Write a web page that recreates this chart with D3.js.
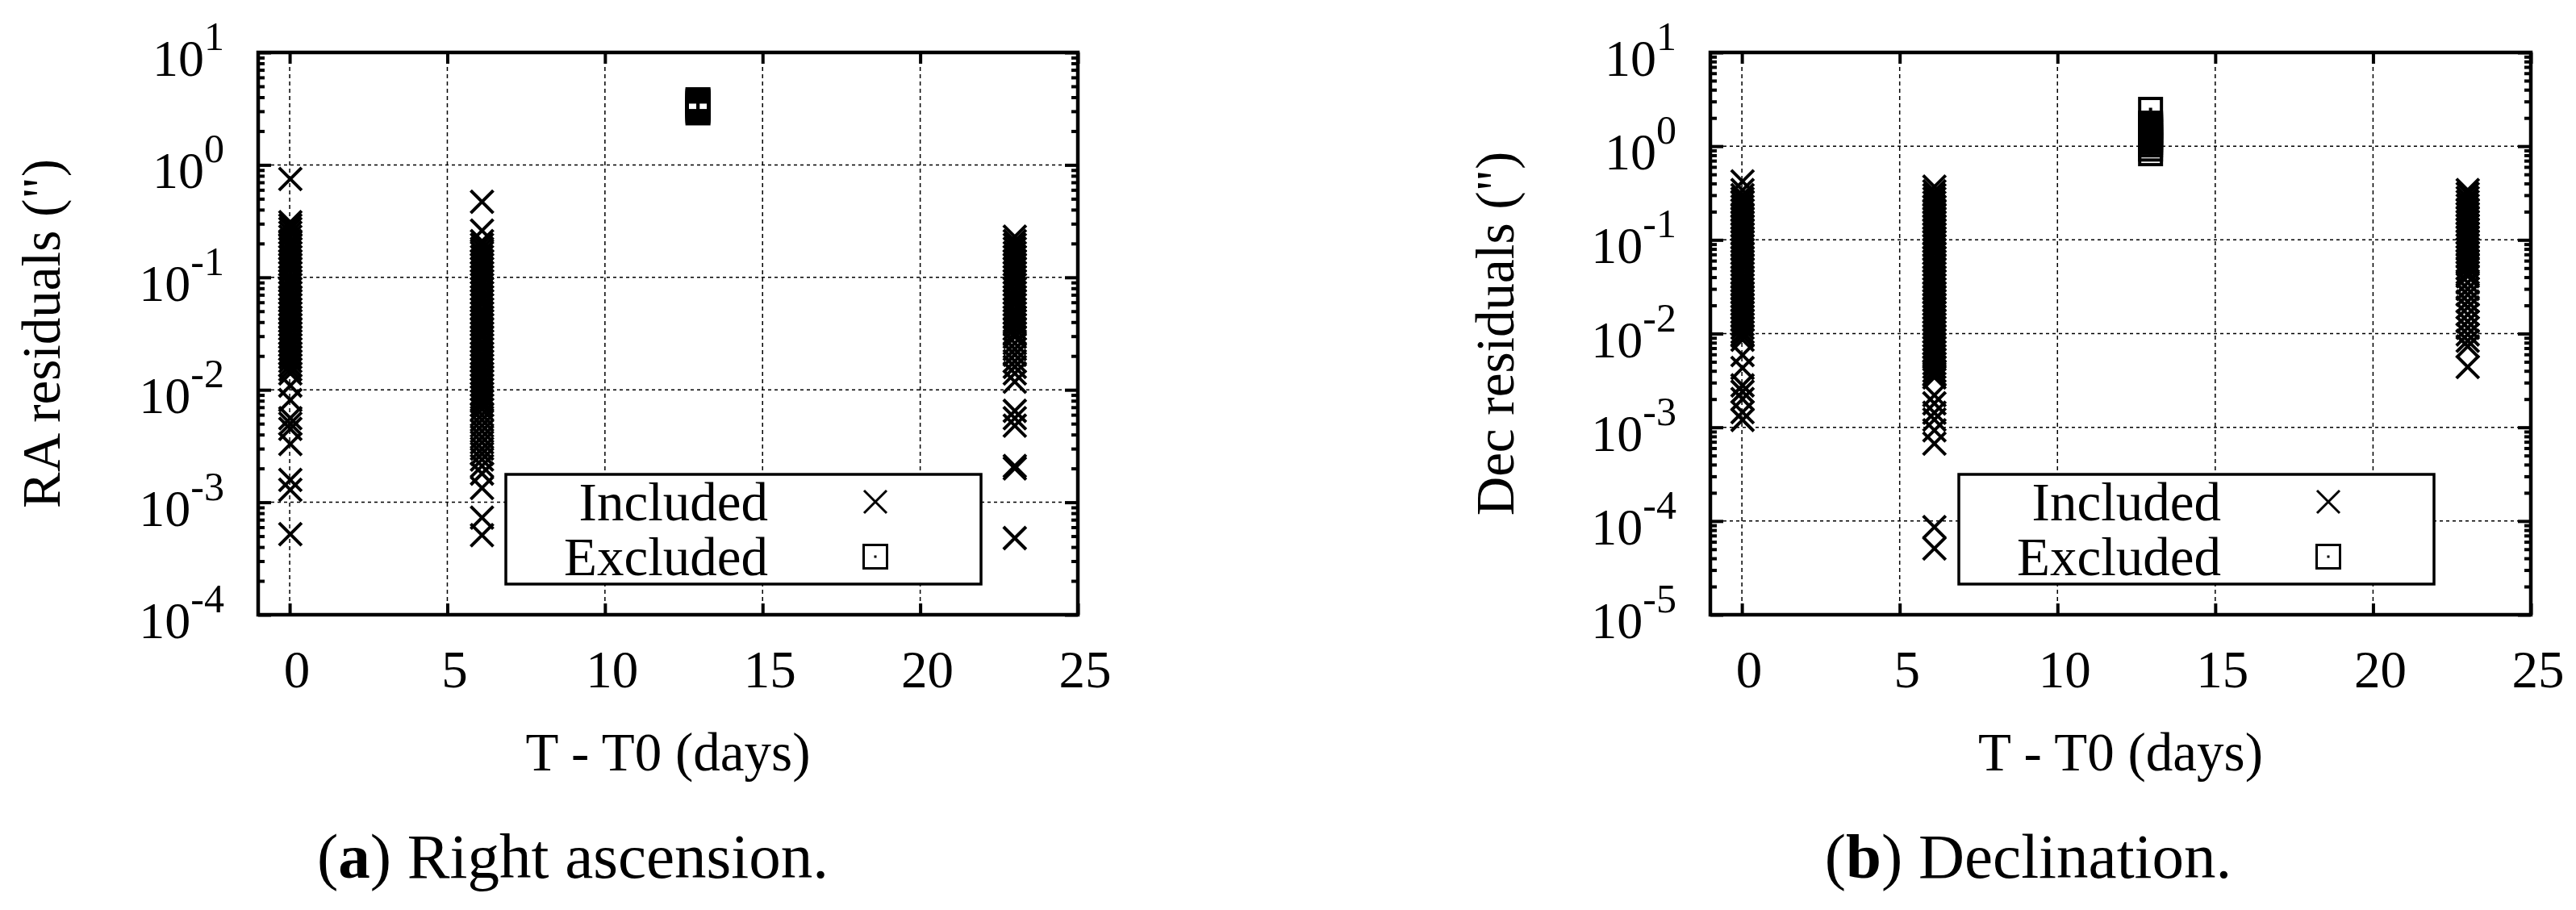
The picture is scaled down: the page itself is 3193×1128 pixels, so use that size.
<!DOCTYPE html>
<meta charset="utf-8">
<script src="https://d3js.org/d3.v7.min.js"></script>
<style>
  body { margin: 0; background: #fff; }
  text { font-family: "Liberation Serif", "Times New Roman", serif; fill: #000; }
</style>
<body>
<div id="chart"></div>
<script>
var nightDays = [0.02, 6.1, 23.0];
var excludedDay = 12.95;

var raNight1 = [0.75,
  0.31, 0.29, 0.27, 0.25, 0.23, 0.21, 0.195, 0.18, 0.165, 0.152, 0.14, 0.13, 0.12, 0.11, 0.1,
  0.093, 0.086, 0.079, 0.073, 0.067, 0.062, 0.057, 0.052, 0.048, 0.044, 0.041, 0.038, 0.035,
  0.032, 0.0295, 0.027, 0.025, 0.023, 0.021, 0.0195, 0.018, 0.0165, 0.0152, 0.014,
  0.0109, 0.0081, 0.0056, 0.005, 0.0045, 0.0033, 0.00158, 0.00129, 0.00052];
var raNight2 = [0.47, 0.26,
  0.21, 0.195, 0.18, 0.165, 0.152, 0.14, 0.13, 0.12, 0.11, 0.101, 0.093, 0.086, 0.079, 0.073,
  0.067, 0.062, 0.057, 0.052, 0.048, 0.044, 0.041, 0.038, 0.035, 0.032, 0.0295, 0.027, 0.025,
  0.023, 0.021, 0.0195, 0.018, 0.0165, 0.0152, 0.014, 0.013, 0.012, 0.011, 0.0101, 0.0093,
  0.0086, 0.0079, 0.0073, 0.0067,
  0.006, 0.0054, 0.0048, 0.0043, 0.0038, 0.0034, 0.003, 0.0027, 0.0024, 0.0021, 0.0018,
  0.00134, 0.00073, 0.00051];
var raNight3 = [0.23, 0.21, 0.195, 0.18, 0.165, 0.152, 0.14, 0.13, 0.12, 0.11, 0.101, 0.093,
  0.086, 0.079, 0.073, 0.067, 0.062, 0.057, 0.052, 0.048, 0.044, 0.041, 0.038, 0.035, 0.032, 0.0295,
  0.026, 0.023, 0.0205, 0.018, 0.016, 0.014, 0.0118,
  0.0065, 0.0056, 0.0048, 0.0021, 0.002, 0.00048];
var raExcluded = [2.9, 3.0, 3.1, 3.2, 3.3, 3.4, 3.5, 3.6, 3.7, 3.8];

var decNight1 = [0.42, 0.34,
  0.3, 0.275, 0.25, 0.227, 0.206, 0.187, 0.17, 0.155, 0.141, 0.128, 0.116, 0.105, 0.096, 0.087,
  0.079, 0.072, 0.065, 0.059, 0.054, 0.049, 0.044, 0.04, 0.0365, 0.033, 0.03, 0.0273, 0.0248,
  0.0225, 0.0205, 0.0186, 0.0169, 0.0153, 0.0139, 0.0126, 0.0115, 0.0104, 0.0095, 0.0086,
  0.0059, 0.0043, 0.0028, 0.0024, 0.002, 0.00145, 0.0012];
var decNight2 = [0.37,
  0.33, 0.3, 0.275, 0.25, 0.227, 0.206, 0.187, 0.17, 0.155, 0.141, 0.128, 0.116, 0.105, 0.096,
  0.087, 0.079, 0.072, 0.065, 0.059, 0.054, 0.049, 0.044, 0.04, 0.0365, 0.033, 0.03, 0.0273,
  0.0248, 0.0225, 0.0205, 0.0186, 0.0169, 0.0153, 0.0139, 0.0126, 0.0115, 0.0104, 0.0095,
  0.0086, 0.0078, 0.0071, 0.0064, 0.0058, 0.0053, 0.0048, 0.0044, 0.004, 0.0037, 0.0034,
  0.0022, 0.0018, 0.00143, 0.00121, 0.00093, 0.00067, 0.000086, 0.000051];
var decNight3 = [0.34, 0.31, 0.28, 0.255, 0.232, 0.21, 0.19, 0.173, 0.157, 0.143, 0.13, 0.118,
  0.107, 0.097, 0.088, 0.08, 0.073, 0.066, 0.06, 0.055, 0.05, 0.045, 0.041,
  0.035, 0.03, 0.026, 0.022, 0.019, 0.016, 0.0135, 0.0115, 0.0098, 0.0084, 0.0073, 0.0044];
var decExcluded = [2.47, 1.76, 1.68, 1.6, 1.52, 1.45, 1.38, 1.31, 1.24, 1.17, 1.1, 1.03, 0.93, 0.83];

var xTicks = [0, 5, 10, 15, 20, 25];
var raDecades = [-4, -3, -2, -1, 0, 1];
var decDecades = [-5, -4, -3, -2, -1, 0, 1];
var legendLabels = ["Included", "Excluded"];

var width = 3193, height = 1128;
var svg = d3.select("#chart").append("svg")
    .attr("width", width)
    .attr("height", height);
svg.append("rect").attr("width", width).attr("height", height).attr("fill", "white");

var cross = "M-14,-14L14,14M-14,14L14,-14";

function drawPanel(p) {
    var g = svg.append("g");
    var x = d3.scaleLinear().domain([-1, 25]).range([p.left, p.right]);
    var y = d3.scaleLog().domain([Math.pow(10, p.decades[0]), 10]).range([p.bottom, p.top]);
    var majors = p.decades.map(function (e) { return Math.pow(10, e); });
    var minors = [];
    p.decades.slice(0, -1).forEach(function (e) {
        for (var k = 2; k <= 9; k++) minors.push(k * Math.pow(10, e));
    });

    // dashed grid on major ticks
    g.selectAll(".vgrid").data(xTicks).enter().append("line")
        .attr("x1", function (d) { return x(d); }).attr("x2", function (d) { return x(d); })
        .attr("y1", p.top).attr("y2", p.bottom)
        .attr("stroke", "#000").attr("stroke-width", 1.5).attr("stroke-dasharray", "5,4");
    g.selectAll(".hgrid").data(majors).enter().append("line")
        .attr("x1", p.left).attr("x2", p.right)
        .attr("y1", function (d) { return y(d); }).attr("y2", function (d) { return y(d); })
        .attr("stroke", "#000").attr("stroke-width", 1.5).attr("stroke-dasharray", "4,4");

    function tickStyle(sel) {
        sel.select(".domain").remove();
        sel.selectAll(".tick line").attr("stroke", "#000").attr("stroke-width", 4);
        sel.selectAll(".tick text").remove();
    }
    g.append("g").attr("transform", "translate(0," + p.bottom + ")")
        .call(d3.axisBottom(x).tickValues(xTicks).tickSize(-14).tickFormat("")).call(tickStyle);
    g.append("g").attr("transform", "translate(0," + p.top + ")")
        .call(d3.axisTop(x).tickValues(xTicks).tickSize(-14).tickFormat("")).call(tickStyle);
    g.append("g").attr("transform", "translate(" + p.left + ",0)")
        .call(d3.axisLeft(y).tickValues(majors).tickSize(-16).tickFormat("")).call(tickStyle);
    g.append("g").attr("transform", "translate(" + p.left + ",0)")
        .call(d3.axisLeft(y).tickValues(minors).tickSize(-8).tickFormat("")).call(tickStyle);
    g.append("g").attr("transform", "translate(" + p.right + ",0)")
        .call(d3.axisRight(y).tickValues(majors).tickSize(-16).tickFormat("")).call(tickStyle);
    g.append("g").attr("transform", "translate(" + p.right + ",0)")
        .call(d3.axisRight(y).tickValues(minors).tickSize(-8).tickFormat("")).call(tickStyle);

    // tick labels
    g.selectAll(".xlab").data(xTicks).enter().append("text")
        .attr("x", function (d) { return x(d) + 9; })
        .attr("y", p.bottom + 90)
        .attr("text-anchor", "middle")
        .style("font-size", "65px")
        .text(function (d) { return d; });
    var ylab = g.selectAll(".ylab").data(p.decades).enter().append("text")
        .attr("x", p.left - 42)
        .attr("y", function (d) { return y(Math.pow(10, d)) + 29; })
        .attr("text-anchor", "end");
    ylab.append("tspan").style("font-size", "64px").text("10");
    ylab.append("tspan").attr("dy", -32).style("font-size", "50px")
        .text(function (d) { return d; });

    // included points
    p.nights.forEach(function (vals, i) {
        g.append("g").selectAll("path").data(vals).enter().append("path")
            .attr("transform", function (d) { return "translate(" + x(nightDays[i]) + "," + y(d) + ")"; })
            .attr("d", cross)
            .attr("fill", "none").attr("stroke", "#000").attr("stroke-width", 4);
    });

    // excluded points
    var sq = g.append("g").selectAll("g").data(p.excluded).enter().append("g")
        .attr("transform", function (d) { return "translate(" + x(excludedDay) + "," + y(d) + ")"; });
    sq.append("rect").attr("x", -13.5).attr("y", -13.5).attr("width", 27).attr("height", 27)
        .attr("fill", "none").attr("stroke", "#000").attr("stroke-width", 4);
    sq.append("rect").attr("x", -2).attr("y", -2).attr("width", 4).attr("height", 4).attr("fill", "#000");

    // border
    g.append("rect").attr("x", p.left).attr("y", p.top)
        .attr("width", p.right - p.left).attr("height", p.bottom - p.top)
        .attr("fill", "none").attr("stroke", "#000").attr("stroke-width", 4.5);

    // legend
    var lx = p.right - 709, ly = p.bottom - 174;
    g.append("rect").attr("x", lx).attr("y", ly).attr("width", 589).attr("height", 136)
        .attr("fill", "white").attr("stroke", "#000").attr("stroke-width", 3.5);
    g.selectAll(".leg").data(legendLabels).enter().append("text")
        .attr("x", lx + 325)
        .attr("y", function (d, i) { return ly + 57 + i * 68; })
        .attr("text-anchor", "end")
        .style("font-size", "67px")
        .text(function (d) { return d; });
    g.append("path").attr("transform", "translate(" + (lx + 458) + "," + (ly + 34) + ")")
        .attr("d", cross).attr("fill", "none").attr("stroke", "#000").attr("stroke-width", 3);
    g.append("rect").attr("x", lx + 458 - 14.5).attr("y", ly + 102 - 14.5)
        .attr("width", 29).attr("height", 29)
        .attr("fill", "none").attr("stroke", "#000").attr("stroke-width", 3);
    g.append("rect").attr("x", lx + 458 - 1.5).attr("y", ly + 102 - 1.5)
        .attr("width", 3).attr("height", 3).attr("fill", "#000");

    // axis titles
    g.append("text")
        .attr("x", (p.left + p.right) / 2).attr("y", 955)
        .attr("text-anchor", "middle").style("font-size", "67px")
        .text("T - T0 (days)");
    g.append("text")
        .attr("transform", "translate(" + p.yTitleX + "," + (p.top + p.bottom) / 2 + ") rotate(-90)")
        .attr("text-anchor", "middle").style("font-size", "67px")
        .text(p.yTitle);

    // caption
    var cap = g.append("text")
        .attr("x", p.captionX).attr("y", 1088)
        .attr("text-anchor", "middle").style("font-size", "79px");
    cap.append("tspan").text("(");
    cap.append("tspan").style("font-weight", "bold").text(p.letter);
    cap.append("tspan").text(") " + p.caption);
}

drawPanel({
    left: 320, right: 1336, top: 65, bottom: 762,
    decades: raDecades,
    nights: [raNight1, raNight2, raNight3],
    excluded: raExcluded,
    yTitle: "RA residuals (\")", yTitleX: 74,
    letter: "a", caption: "Right ascension.", captionX: 710
});
drawPanel({
    left: 2120, right: 3137, top: 65, bottom: 762,
    decades: decDecades,
    nights: [decNight1, decNight2, decNight3],
    excluded: decExcluded,
    yTitle: "Dec residuals (\")", yTitleX: 1876,
    letter: "b", caption: "Declination.", captionX: 2514
});
</script>
</body>
